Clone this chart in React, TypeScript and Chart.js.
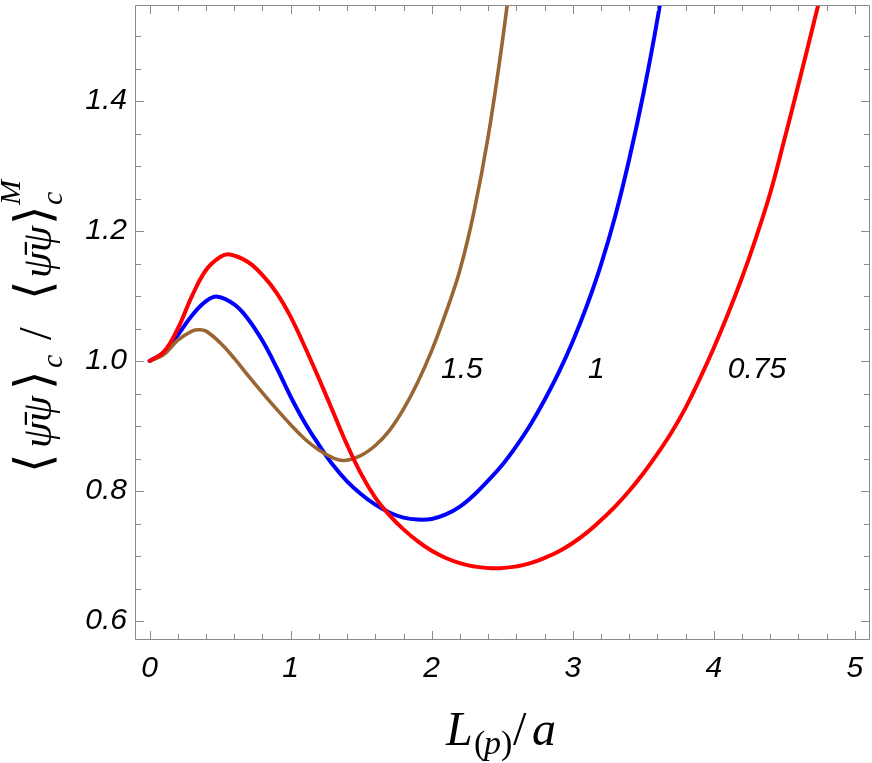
import React, { useEffect, useRef } from 'react';
import { Chart, registerables } from 'chart.js';

Chart.register(...registerables);

const W = 872;
const H = 763;

// Series for coupling 0.75 (red)
const xRed = [0, 0.1, 0.2, 0.3, 0.4, 0.5, 0.57, 0.7, 0.8, 0.9, 1.0, 1.1, 1.2, 1.3, 1.4, 1.5, 1.6, 1.7, 1.8, 1.9, 2.0, 2.1, 2.2, 2.3, 2.45, 2.6, 2.7, 2.8, 2.9, 3.0, 3.1, 3.2, 3.3, 3.4, 3.5, 3.6, 3.7, 3.8, 3.9, 4.0, 4.1, 4.2, 4.3, 4.4, 4.5, 4.6, 4.7, 4.8];
const yRed = [1.0, 1.014, 1.05, 1.1, 1.14, 1.16, 1.164, 1.152, 1.132, 1.105, 1.068, 1.022, 0.973, 0.922, 0.871, 0.826, 0.79, 0.763, 0.741, 0.723, 0.708, 0.697, 0.689, 0.684, 0.681, 0.684, 0.689, 0.697, 0.707, 0.72, 0.736, 0.755, 0.776, 0.8, 0.827, 0.857, 0.89, 0.928, 0.972, 1.02, 1.072, 1.128, 1.19, 1.258, 1.34, 1.425, 1.512, 1.6];

// Series for coupling 1 (blue)
const xBlue = [0, 0.1, 0.2, 0.3, 0.4, 0.48, 0.6, 0.7, 0.8, 0.9, 1.0, 1.1, 1.2, 1.3, 1.4, 1.5, 1.6, 1.7, 1.8, 1.9, 2.0, 2.1, 2.2, 2.3, 2.4, 2.5, 2.6, 2.7, 2.8, 2.9, 3.0, 3.1, 3.2, 3.3, 3.4, 3.5, 3.6, 3.7];
const yBlue = [1.0, 1.013, 1.04, 1.07, 1.092, 1.099, 1.087, 1.064, 1.031, 0.99, 0.945, 0.905, 0.871, 0.84, 0.815, 0.795, 0.779, 0.767, 0.759, 0.756, 0.757, 0.764, 0.776, 0.794, 0.816, 0.84, 0.869, 0.902, 0.94, 0.982, 1.03, 1.085, 1.148, 1.222, 1.31, 1.41, 1.525, 1.66];

// Series for coupling 1.5 (brown)
const xBrown = [0, 0.1, 0.2, 0.3, 0.35, 0.4, 0.5, 0.6, 0.7, 0.8, 0.9, 1.0, 1.1, 1.2, 1.3, 1.38, 1.5, 1.6, 1.7, 1.8, 1.9, 2.0, 2.1, 2.2, 2.3, 2.4, 2.5, 2.6];
const yBrown = [1.0, 1.01, 1.032, 1.046, 1.048, 1.046, 1.028, 1.004, 0.977, 0.951, 0.926, 0.902, 0.88, 0.863, 0.851, 0.847, 0.855, 0.87, 0.893, 0.926, 0.967, 1.016, 1.074, 1.14, 1.23, 1.345, 1.49, 1.66];

// Curve labels
const curveLabels = ['1.5', '1', '0.75'];
const curveLabelX = [2.066, 3.108, 4.1];
const curveLabelY = [0.986, 0.986, 0.986];

// Axis ranges and ticks
const xMin = -0.104;
const xMax = 5.108;
const yMin = 0.5708;
const yMax = 1.5477;
const xMajorStep = 1;
const xMinorStep = 0.2;
const yMajorStep = 0.2;
const yMinorStep = 0.05;

const FRAME = '#8a8a8a';

const toPts = (xs: number[], ys: number[]) => xs.map((x, i) => ({ x, y: ys[i] }));

const decorPlugin = {
  id: 'decor',
  afterDatasetsDraw(chart: any) {
    const { ctx, chartArea: a, scales } = chart;
    const sx = scales.x;
    const sy = scales.y;
    ctx.save();
    // frame
    ctx.strokeStyle = FRAME;
    ctx.lineWidth = 1;
    ctx.beginPath();
    ctx.rect(Math.round(a.left) + 0.5, Math.round(a.top) + 0.5, Math.round(a.right - a.left) - 1, Math.round(a.bottom - a.top) - 1);
    ctx.stroke();
    // x ticks (bottom and top, inward)
    const nX = Math.round(5 / xMinorStep);
    for (let i = 0; i <= nX; i++) {
      const v = i * xMinorStep;
      const major = Math.abs(v / xMajorStep - Math.round(v / xMajorStep)) < 1e-6;
      const len = major ? 9 : 6;
      const px = Math.round(sx.getPixelForValue(v)) + 0.5;
      ctx.beginPath();
      ctx.moveTo(px, a.bottom);
      ctx.lineTo(px, a.bottom - len);
      ctx.moveTo(px, a.top);
      ctx.lineTo(px, a.top + len);
      ctx.stroke();
    }
    // y ticks (left and right, inward)
    const nY = Math.round((1.5 - 0.6) / yMinorStep);
    for (let i = 0; i <= nY; i++) {
      const v = 0.6 + i * yMinorStep;
      const major = i % Math.round(yMajorStep / yMinorStep) === 0;
      const len = major ? 9 : 6;
      const py = Math.round(sy.getPixelForValue(v)) + 0.5;
      ctx.beginPath();
      ctx.moveTo(a.left, py);
      ctx.lineTo(a.left + len, py);
      ctx.moveTo(a.right, py);
      ctx.lineTo(a.right - len, py);
      ctx.stroke();
    }
    // curve labels
    ctx.fillStyle = '#000';
    ctx.font = 'italic 30px "Liberation Sans", Arial, sans-serif';
    ctx.textAlign = 'left';
    ctx.textBaseline = 'middle';
    curveLabels.forEach((t, i) => {
      ctx.fillText(t, sx.getPixelForValue(curveLabelX[i]), sy.getPixelForValue(curveLabelY[i]));
    });

    // x axis title: L_(p)/a
    ctx.textBaseline = 'alphabetic';
    const serifI = (s: number) => `italic ${s}px "Liberation Serif", "Times New Roman", serif`;
    const serif = (s: number) => `${s}px "Liberation Serif", "Times New Roman", serif`;
    const base = 745;
    ctx.font = serifI(48);
    ctx.fillText('L', 446, base);
    ctx.font = serif(34);
    ctx.fillText('(', 474, base + 9);
    ctx.font = serifI(34);
    ctx.fillText('p', 484, base + 9);
    ctx.font = serif(34);
    ctx.fillText(')', 501, base + 9);
    ctx.font = serif(48);
    ctx.fillText('/', 513, base);
    ctx.font = serifI(48);
    ctx.fillText('a', 532, base);

    // y axis title: <psibar psi>_c / <psibar psi>_c^M (rotated)
    ctx.save();
    ctx.translate(51, 470);
    ctx.rotate(-Math.PI / 2);
    const br = '200 50px "DejaVu Sans Light", "DejaVu Sans ExtraLight", "DejaVu Sans", sans-serif';
    const psi = serifI(42);
    ctx.font = br;
    ctx.fillText('\u27E8', -3, -1);
    ctx.font = psi;
    ctx.fillText('\u03C8\u0304\u03C8', 22, 0);
    ctx.font = br;
    ctx.fillText('\u27E9', 80, -1);
    ctx.font = serifI(30);
    ctx.fillText('c', 102, 11);
    ctx.font = serif(46);
    ctx.fillText('/', 130, 0);
    ctx.font = br;
    ctx.fillText('\u27E8', 170, -1);
    ctx.font = psi;
    ctx.fillText('\u03C8\u0304\u03C8', 192, 0);
    ctx.font = br;
    ctx.fillText('\u27E9', 245, -1);
    ctx.font = serifI(30);
    ctx.fillText('c', 265, 11);
    ctx.fillText('M', 265, -31);
    ctx.restore();

    ctx.restore();
  },
};

export default function App() {
  const ref = useRef<HTMLCanvasElement | null>(null);
  useEffect(() => {
    const canvas = ref.current;
    if (!canvas) return;
    const tickFont = { family: '"Liberation Sans", Arial, sans-serif', size: 30, style: 'italic' as const };
    const chart = new Chart(canvas, {
      type: 'line',
      data: {
        datasets: [
          { label: '0.75', data: toPts(xRed, yRed), borderColor: '#ff0000', borderWidth: 4, order: 0 },
          { label: '1.5', data: toPts(xBrown, yBrown), borderColor: '#996633', borderWidth: 3.6, order: 1 },
          { label: '1', data: toPts(xBlue, yBlue), borderColor: '#0000ff', borderWidth: 4, order: 2 },
        ].map((d) => ({
          ...d,
          pointRadius: 0,
          fill: false,
          tension: 0.4,
          borderCapStyle: 'round' as const,
          borderJoinStyle: 'round' as const,
          clip: 0,
        })),
      },
      options: {
        responsive: false,
        animation: false,
        devicePixelRatio: 1,
        layout: { padding: { left: 8, top: 5, right: 2, bottom: 0 } },
        plugins: { legend: { display: false }, tooltip: { enabled: false }, title: { display: false } },
        scales: {
          x: {
            type: 'linear',
            min: xMin,
            max: xMax,
            grid: { display: false, drawTicks: false },
            border: { display: false },
            ticks: {
              stepSize: xMajorStep,
              includeBounds: false,
              font: tickFont,
              color: '#000',
              padding: 11,
              maxRotation: 0,
              autoSkip: false,
              callback: (v: any) => String(Math.round(Number(v))),
            },
            afterFit: (s: any) => {
              s.height = 123;
              s.paddingLeft = 0;
              s.paddingRight = 0;
              s.paddingTop = 0;
              s.paddingBottom = 0;
            },
          },
          y: {
            type: 'linear',
            min: yMin,
            max: yMax,
            grid: { display: false, drawTicks: false },
            border: { display: false },
            ticks: {
              stepSize: yMajorStep,
              includeBounds: false,
              font: tickFont,
              color: '#000',
              padding: 8,
              autoSkip: false,
              callback: (v: any) => Number(v).toFixed(1),
            },
            afterFit: (s: any) => {
              s.width = 127;
              s.paddingLeft = 0;
              s.paddingRight = 0;
              s.paddingTop = 0;
              s.paddingBottom = 0;
            },
          },
        },
      },
      plugins: [decorPlugin],
    });
    return () => chart.destroy();
  }, []);
  return (
    <div style={{ position: 'absolute', left: 0, top: 0, width: W, height: H, background: '#fff' }}>
      <canvas ref={ref} width={W} height={H} style={{ width: W, height: H, display: 'block' }} />
    </div>
  );
}
